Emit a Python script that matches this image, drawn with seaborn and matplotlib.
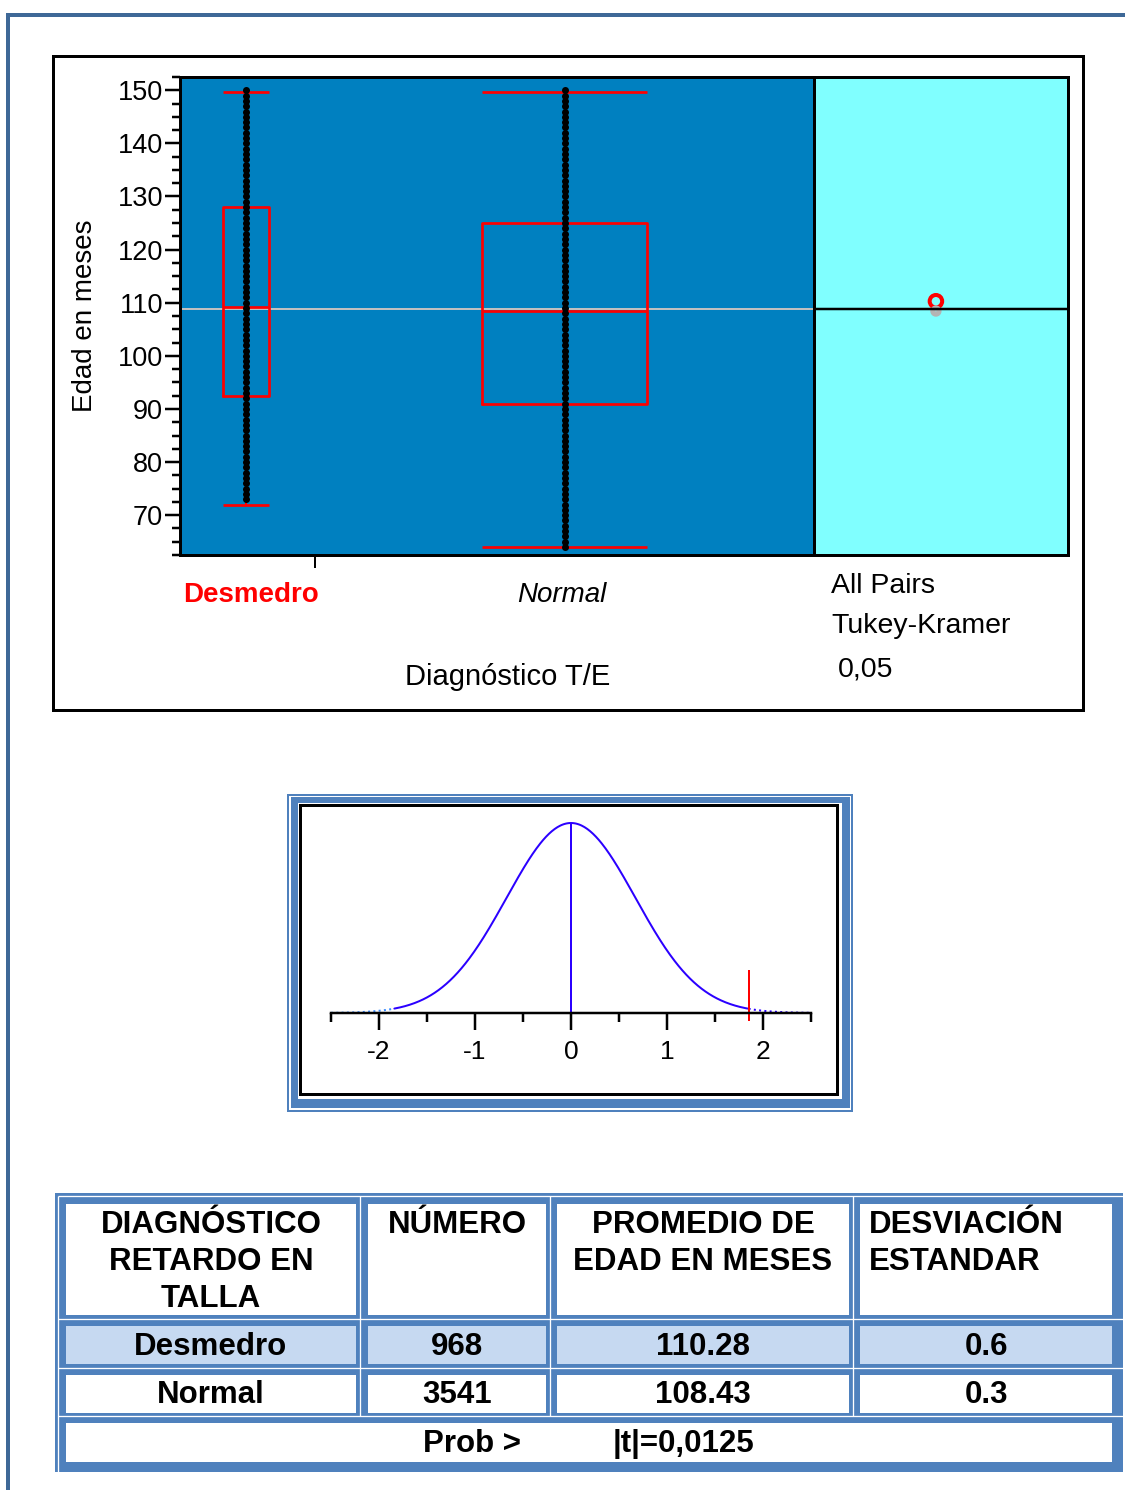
import numpy as np
import pandas as pd
import matplotlib
matplotlib.use("Agg")
import matplotlib.pyplot as plt
from matplotlib.patches import Rectangle, Ellipse
import seaborn as sns

# ---------------------------------------------------------------- data
grupos = ["Desmedro", "Normal"]
numero = [968, 3541]
promedio_edad = [110.28, 108.43]
desviacion = [0.6, 0.3]
prob_t = "0,0125"
alfa = "0,05"

# box summaries per group: min, Q1, median, Q3, max (months)
caja_desmedro = [72.0, 92.5, 109.2, 128.0, 149.6]
caja_normal = [64.0, 91.0, 108.5, 125.0, 149.6]

# ages (whole months) shown as points in each group
edades_desmedro = [
    73, 74, 75, 76, 77, 78, 79, 80, 81, 82, 83, 84, 85,
    86, 87, 88, 89, 90, 91, 92, 93, 94, 95, 96, 97, 98,
    99, 100, 101, 102, 103, 104, 105, 106, 107, 108, 109, 110, 111,
    112, 113, 114, 115, 116, 117, 118, 119, 120, 121, 122, 123, 124,
    125, 126, 127, 128, 129, 130, 131, 132, 133, 134, 135, 136, 137,
    138, 139, 140, 141, 142, 143, 144, 145, 146, 147, 148, 149, 150,
]
edades_normal = [
    64, 65, 66, 67, 68, 69, 70, 71, 72,
    73, 74, 75, 76, 77, 78, 79, 80, 81, 82, 83, 84, 85,
    86, 87, 88, 89, 90, 91, 92, 93, 94, 95, 96, 97, 98,
    99, 100, 101, 102, 103, 104, 105, 106, 107, 108, 109, 110, 111,
    112, 113, 114, 115, 116, 117, 118, 119, 120, 121, 122, 123, 124,
    125, 126, 127, 128, 129, 130, 131, 132, 133, 134, 135, 136, 137,
    138, 139, 140, 141, 142, 143, 144, 145, 146, 147, 148, 149, 150,
]

edad_ticks = [70, 80, 90, 100, 110, 120, 130, 140, 150]
dif_ticks = [-2, -1, 0, 1, 2]

encabezados = [
    ["DIAGNÓSTICO", "RETARDO EN", "TALLA"],
    ["NÚMERO"],
    ["PROMEDIO DE", "EDAD EN MESES"],
    ["DESVIACIÓN", "ESTANDAR"],
]

# ---------------------------------------------------------------- setup
sns.set_style("white")
plt.rcParams["font.family"] = ["Liberation Sans", "DejaVu Sans"]
plt.rcParams.update({
    "text.color": "black",
    "axes.labelcolor": "black",
    "xtick.color": "black",
    "ytick.color": "black",
    "xtick.labelcolor": "black",
    "ytick.labelcolor": "black",
})

W, H = 1125, 1490
PT = 0.72  # points per pixel at 100 dpi


def caja(x0, y0, x1, y1):
    """Figure-fraction rectangle from pixel edges (y measured from top)."""
    return [x0 / W, 1 - y1 / H, (x1 - x0) / W, (y1 - y0) / H]


fig = plt.figure(figsize=(W / 100, H / 100), dpi=100)
fig.patch.set_facecolor("white")

lienzo = fig.add_axes([0, 0, 1, 1])
lienzo.set_xlim(0, W)
lienzo.set_ylim(H, 0)
lienzo.axis("off")

marco = "#3E6897"
azul = "#4F81BD"
lienzo.plot([6, W], [14.5, 14.5], color=marco, lw=4 * PT, solid_capstyle="butt")
lienzo.plot([8, 8], [12.5, H], color=marco, lw=4 * PT, solid_capstyle="butt")
lienzo.add_patch(Rectangle((52.5, 55.5), 1030.5, 654, fill=False,
                           ec="black", lw=3 * PT))

# ---------------------------------------------------------------- box plot
ax = fig.add_axes(caja(180, 77, 814, 555))
ax.set_facecolor("#0080C0")

media_global = sum(n * m for n, m in zip(numero, promedio_edad)) / sum(numero)
ax.axhline(media_global, color="#C0C0C0", lw=2 * PT, zorder=1)

cajas = pd.DataFrame({
    "grupo": [grupos[0]] * len(caja_desmedro) + [grupos[1]] * len(caja_normal),
    "edad": caja_desmedro + caja_normal,
})
anchos = [0.52 * n / max(numero) for n in numero]
for g, w in zip(grupos, anchos):
    sns.boxplot(data=cajas[cajas["grupo"] == g], x="grupo", y="edad",
                order=grupos, width=w, whis=(0, 100), fill=False,
                color="red", linewidth=2.7 * PT, showfliers=False,
                whiskerprops={"linewidth": 2 * PT},
                capprops={"visible": False}, ax=ax)
for i, (est, w) in enumerate(zip([caja_desmedro, caja_normal], anchos)):
    ax.hlines([est[0], est[-1]], i - w / 2, i + w / 2, color="red",
              lw=2.7 * PT, zorder=3)

puntos = pd.DataFrame({
    "grupo": [grupos[0]] * len(edades_desmedro) + [grupos[1]] * len(edades_normal),
    "edad": edades_desmedro + edades_normal,
})
sns.stripplot(data=puntos, x="grupo", y="edad", order=grupos, jitter=False,
              color="black", size=7 * PT, linewidth=0, ax=ax, zorder=4)

ax.set_xlim(-0.207, 1.783)
ax.set_ylim(62.5, 152.5)
ax.set_yticks(edad_ticks)
ax.set_yticks(np.arange(62.5, 153, 2.5), minor=True)
ax.set_xticks([0.217], labels=[""])
ax.tick_params(axis="y", which="major", direction="out", left=True,
               length=15 * PT, width=2.5 * PT, pad=2 * PT, labelsize=19.5,
               color="black", labelcolor="black")
ax.tick_params(axis="y", which="minor", direction="out", left=True,
               length=8 * PT, width=2.5 * PT, color="black")
ax.tick_params(axis="x", which="major", direction="out", bottom=True,
               length=13 * PT, width=2 * PT, color="black")
for s in ax.spines.values():
    s.set_visible(True)
    s.set_color("black")
    s.set_linewidth(3 * PT)

trans = ax.get_xaxis_transform()
ax.text(0.016, -0.0977, grupos[0], transform=trans, ha="center",
        va="baseline", fontsize=20, fontweight="bold", color="red")
ax.text(0.99, -0.0977, grupos[1], transform=trans, ha="center",
        va="baseline", fontsize=20, style="italic", color="black")

ax.set_xlabel("Diagnóstico T/E", fontsize=21, color="black")
ax.xaxis.set_label_coords((508 - 180) / 634, (555 - 685) / 478)
ax.xaxis.label.set_va("baseline")
ax.set_ylabel("Edad en meses", fontsize=20, color="black")
ax.yaxis.set_label_coords((92 - 180) / 634, (555 - 315.5) / 478)
ax.yaxis.label.set_va("baseline")

# ---------------------------------------------------------------- comparison circles
axr = fig.add_axes(caja(814, 77, 1068, 555))
axr.set_facecolor("#80FFFF")
axr.set_xlim(0, 1)
axr.set_ylim(ax.get_ylim())
axr.set_xticks([])
axr.set_yticks([])
for s in axr.spines.values():
    s.set_visible(True)
    s.set_color("black")
    s.set_linewidth(3 * PT)
axr.axhline(media_global, color="black", lw=2.5 * PT)
px_y = 478 / (152.5 - 62.5)
px_x = 254
for media, de, col, lw in zip(promedio_edad, desviacion,
                              ["red", "#B4B4B4"], [4, 5]):
    r = 1.96 * de
    axr.add_patch(Ellipse((0.48, media), 2 * r * px_y / px_x, 2 * r,
                          fill=False, ec=col, lw=lw * PT))

for txt, x, y in [("All Pairs", 831, 593), ("Tukey-Kramer", 831, 633),
                  (alfa, 838, 677)]:
    lienzo.text(x, y, txt, fontsize=20.5, ha="left", va="baseline",
                color="black")

# ---------------------------------------------------------------- t distribution panel
lienzo.add_patch(Rectangle((288, 794.5), 564, 316.5, fill=False, ec=azul,
                           lw=2 * PT))
lienzo.add_patch(Rectangle((291, 797), 559, 311, fc=azul, ec="none"))
lienzo.add_patch(Rectangle((298, 803), 544, 296, fc="white", ec="none"))
lienzo.add_patch(Rectangle((299.5, 804.5), 537, 289, fill=False, ec="black",
                           lw=3 * PT))

axn = fig.add_axes(caja(301, 806, 835, 1092))
axn.patch.set_alpha(0)
dif = promedio_edad[0] - promedio_edad[1]
ee = float(np.hypot(*desviacion))
z = np.linspace(-2.5, 2.5, 501)
dens = np.exp(-0.5 * (z / ee) ** 2) / (ee * np.sqrt(2 * np.pi))
curva = pd.DataFrame({"z": z, "densidad": dens})
linea = "#2B00FF"
sns.lineplot(data=curva[curva["z"].abs() <= dif], x="z", y="densidad",
             color=linea, lw=2 * PT, errorbar=None, ax=axn)
sns.lineplot(data=curva[curva["z"] < -dif], x="z", y="densidad",
             color="#3A8CFF", lw=2 * PT, ls=":", errorbar=None, ax=axn)
sns.lineplot(data=curva[curva["z"] > dif], x="z", y="densidad",
             color=linea, lw=2 * PT, ls=":", errorbar=None, ax=axn)
pico = dens.max()
axn.vlines(0, 0, pico, color=linea, lw=2 * PT)
axn.vlines(dif, -0.025, 0.136, color="red", lw=2 * PT)

axn.set_xlim(-2.8125, 2.75)
axn.set_ylim(-pico * 79 / 190, pico * 207 / 190)
axn.set_xlabel("")
axn.set_ylabel("")
axn.set_yticks([])
axn.set_xticks(dif_ticks, labels=[f"{t}" for t in dif_ticks])
axn.set_xticks([-2.5, -1.5, -0.5, 0.5, 1.5, 2.5], minor=True)
for k in ["left", "top", "right"]:
    axn.spines[k].set_visible(False)
axn.spines["bottom"].set_visible(True)
axn.spines["bottom"].set_position(("data", 0))
axn.spines["bottom"].set_bounds(-2.5, 2.5)
axn.spines["bottom"].set_color("black")
axn.spines["bottom"].set_linewidth(2.5 * PT)
axn.tick_params(axis="x", which="major", direction="out", bottom=True,
                length=17 * PT, width=2.5 * PT, labelsize=19, pad=7,
                color="black", labelcolor="black")
axn.tick_params(axis="x", which="minor", direction="out", bottom=True,
                length=9 * PT, width=2.5 * PT, color="black")

# ---------------------------------------------------------------- summary table
lienzo.add_patch(Rectangle((55, 1193), 1123 - 55, 1472 - 1193, fc=azul,
                           ec="none"))
blanco = dict(color="white", lw=1.3 * PT, solid_capstyle="butt")
lienzo.plot([58, 1123], [1196, 1196], **blanco)
lienzo.plot([58, 58], [1196, 1472], **blanco)
for yy in [1318.5, 1367.5, 1416]:
    lienzo.plot([58, 1123], [yy, yy], **blanco)
for xx in [360, 549.5, 852.5]:
    lienzo.plot([xx, xx], [1196, 1416], **blanco)

columnas = [(66, 356), (368, 546), (557, 849), (860, 1112)]
filas = [(1204, 1315), (1326, 1364), (1375, 1413)]
rellenos = ["white", "#C6D9F1", "white"]
for (y0, y1), fc in zip(filas, rellenos):
    for x0, x1 in columnas:
        lienzo.add_patch(Rectangle((x0, y0), x1 - x0, y1 - y0, fc=fc,
                                   ec="none"))
lienzo.add_patch(Rectangle((66, 1423), 1112 - 66, 1462 - 1423, fc="white",
                           ec="none"))

negrita = dict(fontsize=22.5, fontweight="bold", va="baseline", color="black")
for j, lineas in enumerate(encabezados):
    x0, x1 = columnas[j]
    for k, txt in enumerate(lineas):
        if j == 3:
            lienzo.text(869, 1233 + 37 * k, txt, ha="left", **negrita)
        else:
            lienzo.text((x0 + x1) / 2, 1233 + 37 * k, txt, ha="center",
                        **negrita)

for i, base in enumerate([1355, 1403]):
    valores = [grupos[i], f"{numero[i]}", f"{promedio_edad[i]:.2f}",
               f"{desviacion[i]}"]
    for (x0, x1), txt in zip(columnas, valores):
        lienzo.text((x0 + x1) / 2, base, txt, ha="center", **negrita)

lienzo.text(423, 1452, "Prob >", ha="left", **negrita)
lienzo.text(613, 1452, f"|t|={prob_t}", ha="left", **negrita)

fig.savefig("out.png", dpi=100, facecolor="white")
